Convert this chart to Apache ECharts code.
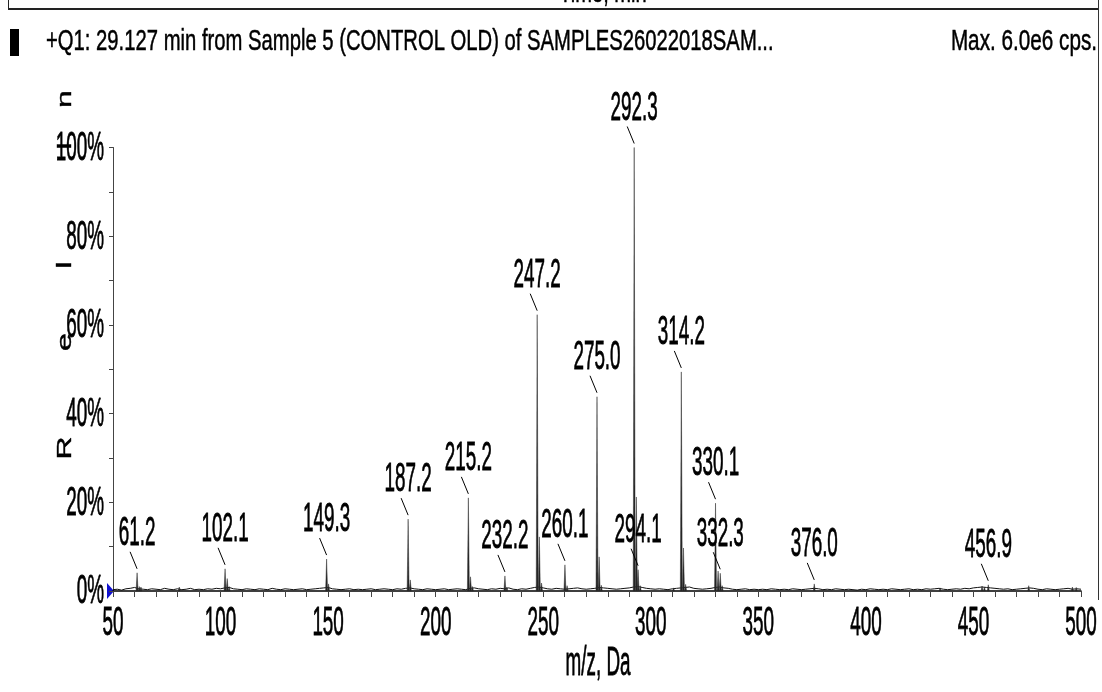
<!DOCTYPE html>
<html>
<head>
<meta charset="utf-8">
<script src="https://cdn.jsdelivr.net/npm/echarts@6/dist/echarts.min.js"></script>
<style>html,body{margin:0;padding:0;background:#fff;}#c{width:1102px;height:692px;}</style>
</head>
<body>
<div id="c"></div>
<script>
// ---------- data ----------
const titleText = '+Q1: 29.127 min from Sample 5 (CONTROL OLD) of SAMPLES26022018SAM...';
const maxText = 'Max. 6.0e6 cps.';
const topCutText = 'Time, min';
const xAxisTitle = 'm/z, Da';
const yAxisLetters = ['R', 'e', 'l', 'I', 'n'];

const xTicks = [50, 100, 150, 200, 250, 300, 350, 400, 450, 500];
const yTicks = [0, 20, 40, 60, 80, 100];
const yTickLabels = ['0%', '20%', '40%', '60%', '80%', '100%'];

// labelled peaks (m/z, relative intensity %)
const labelMz  = [61.2, 102.1, 149.3, 187.2, 215.2, 232.2, 247.2, 260.1, 275.0, 292.3, 294.1, 314.2, 330.1, 332.3, 376.0, 456.9];
const labelInt = [4.1,  5.0,   7.2,   16.2,  21.0,  3.4,   62.3,  5.9,   43.8,  100,   4.8,   49.4,  19.8,  4.0,   1.6,   1.4];
const labelText = ['61.2','102.1','149.3','187.2','215.2','232.2','247.2','260.1','275.0','292.3','294.1','314.2','330.1','332.3','376.0','456.9'];

// other (unlabelled) peaks / isotopes
const minorMz  = [62.2, 63.0, 80.8, 103.1, 104.0, 150.2, 188.2, 216.2, 217.1, 233.1, 248.2, 249.2, 261.1, 276.0, 277.0, 293.3, 295.1, 310.6, 315.2, 316.2, 331.3, 333.2, 434.5, 454.0, 455.1, 475.7, 496.0, 497.8];
const minorInt = [1.0,  0.9,  0.9,  2.8,   1.0,   1.6,   2.5,   3.2,   1.0,   0.9,   12.2,  1.8,   1.2,   7.7,   1.3,   21.2,  1.2,   0.7,   9.7,   1.5,   4.5,   1.2,   0.7,   1.1,   0.9,   1.2,   0.9,   0.8];

// baseline noise, sampled every 2 Da from 50
const noiseStart = 50, noiseStep = 2;
const noiseInt = [
 0.3,0.4,0.2,0.5,0.6,0.8,0.5,0.4,0.3,0.5,
 0.4,0.3,0.6,0.4,0.3,0.5,0.3,0.4,0.6,0.3,
 0.4,0.3,0.5,0.4,0.6,0.5,0.7,0.8,0.5,0.4,
 0.3,0.5,0.4,0.3,0.5,0.4,0.3,0.6,0.4,0.3,
 0.5,0.4,0.3,0.4,0.5,0.3,0.4,0.5,0.6,0.7,
 0.8,0.5,0.4,0.3,0.4,0.5,0.3,0.4,0.3,0.4,
 0.5,0.3,0.4,0.5,0.4,0.3,0.5,0.4,0.6,0.7,
 0.5,0.4,0.3,0.5,0.4,0.3,0.4,0.5,0.3,0.4,
 0.5,0.4,0.3,0.6,0.7,0.5,0.4,0.3,0.5,0.4,
 0.6,0.5,0.7,0.4,0.3,0.5,0.4,0.6,0.8,0.9,
 0.7,0.5,0.4,0.6,0.5,0.4,0.5,0.6,0.7,0.5,
 0.4,0.5,0.6,0.8,0.7,0.6,0.5,0.4,0.5,0.6,
 0.7,0.9,1.0,0.8,0.6,0.5,0.4,0.5,0.4,0.3,
 0.5,0.6,0.7,0.8,0.9,0.6,0.5,0.4,0.5,0.6,
 0.8,0.9,0.7,0.6,0.4,0.3,0.4,0.5,0.3,0.4,
 0.3,0.4,0.3,0.5,0.4,0.3,0.4,0.3,0.5,0.4,
 0.3,0.4,0.5,0.6,0.5,0.3,0.4,0.3,0.5,0.4,
 0.3,0.4,0.3,0.2,0.4,0.3,0.5,0.4,0.3,0.4,
 0.3,0.5,0.4,0.3,0.4,0.5,0.3,0.4,0.3,0.5,
 0.4,0.5,0.6,0.4,0.3,0.4,0.5,0.4,0.6,0.5,
 0.7,0.8,0.9,0.8,0.7,0.6,0.5,0.4,0.5,0.3,
 0.4,0.5,0.6,0.7,0.6,0.4,0.3,0.5,0.4,0.3,
 0.4,0.5,0.6,0.4,0.5,0.4
];

// ---------- chart ----------
const FONT = 'Liberation Sans';
const BIG = 41, SQX = 0.46;
const chart = echarts.init(document.getElementById('c'));

const noiseData = noiseInt.map((v, i) => [noiseStart + i * noiseStep, v]);
const peakData = labelMz.map((m, i) => [m, labelInt[i]]).concat(minorMz.map((m, i) => [m, minorInt[i]]));
const labelData = labelMz.map((m, i) => [m, labelInt[i], i]);

function bigText(text, x, y, align, extra) {
  return Object.assign({
    type: 'text', x: x, y: y, scaleX: SQX, silent: true,
    style: { text: text, fontSize: BIG, fontFamily: FONT, fill: '#000', align: align, verticalAlign: 'middle',
             stroke: '#000', lineWidth: 0.8 }
  }, extra || {});
}

chart.setOption({
  animation: false,
  backgroundColor: '#fff',
  grid: { left: 113, right: 21, top: 147.5, bottom: 101, containLabel: false },
  xAxis: {
    type: 'value', min: 50, max: 500, interval: 50,
    axisLine: { show: true, onZero: false, lineStyle: { color: '#000', width: 1.5 } },
    axisTick: { show: true, length: 6, lineStyle: { color: '#444', width: 1 } },
    minorTick: { show: true, splitNumber: 5, length: 6, lineStyle: { color: '#444', width: 1 } },
    axisLabel: { show: false }, splitLine: { show: false }
  },
  yAxis: {
    type: 'value', min: 0, max: 100, interval: 20,
    axisLine: { show: true, lineStyle: { color: '#444', width: 1 } },
    axisTick: { show: true, length: 4, lineStyle: { color: '#444' } },
    minorTick: { show: true, splitNumber: 2, length: 4, lineStyle: { color: '#444' } },
    axisLabel: { show: false }, splitLine: { show: false }
  },
  series: [
    {
      type: 'line', data: noiseData, symbol: 'none', silent: true,
      lineStyle: { color: '#111', width: 1 }, z: 2
    },
    {
      type: 'custom', data: peakData, silent: true, z: 3,
      renderItem: function (params, api) {
        const top = api.coord([api.value(0), api.value(1)]);
        const base = api.coord([api.value(0), 0]);
        return {
          type: 'polygon',
          shape: { points: [[base[0] - 1.0, base[1]], [top[0], top[1]], [base[0] + 1.0, base[1]]] },
          style: { fill: '#222', stroke: '#333', lineWidth: 0.5 }
        };
      }
    },
    {
      type: 'custom', data: labelData, silent: true, z: 4,
      renderItem: function (params, api) {
        const p = api.coord([api.value(0), api.value(1)]);
        const t = labelText[api.value(2)];
        return {
          type: 'group',
          children: [
            { type: 'line', shape: { x1: p[0] - 7, y1: p[1] - 21, x2: p[0], y2: p[1] - 4 }, style: { stroke: '#000', lineWidth: 1 } },
            bigText(t, p[0], p[1] - 39, 'center')
          ]
        };
      }
    },
    {
      type: 'custom', data: xTicks.map(v => [v, 0]), silent: true, z: 4,
      renderItem: function (params, api) {
        const p = api.coord([api.value(0), 0]);
        return bigText(String(api.value(0)), p[0], p[1] + 33, 'center');
      }
    },
    {
      type: 'custom', data: yTicks.map((v, i) => [50, v, i]), silent: true, z: 4,
      renderItem: function (params, api) {
        const p = api.coord([50, api.value(1)]);
        return bigText(yTickLabels[api.value(2)], p[0] - 9, p[1] + 1, 'right');
      }
    }
  ]
});

const o = chart.convertToPixel({ gridIndex: 0 }, [50, 0]);
const yLetterPos = [448, 342, 265, 146, 99];
const titleStyle = { fontSize: 30, fontFamily: FONT, fill: '#000', verticalAlign: 'middle', stroke: '#000', lineWidth: 0.5 };
const graphics = [
  { type: 'line', shape: { x1: 8, y1: 9, x2: 1098, y2: 9 }, style: { stroke: '#222', lineWidth: 2 } },
  { type: 'line', shape: { x1: 8.5, y1: 0, x2: 8.5, y2: 9 }, style: { stroke: '#222', lineWidth: 1 } },
  { type: 'line', shape: { x1: 1098.5, y1: 0, x2: 1098.5, y2: 600 }, style: { stroke: '#333', lineWidth: 1 } },
  { type: 'rect', shape: { x: 10, y: 29, width: 9, height: 27 }, style: { fill: '#000' } },
  { type: 'text', x: 46, y: 42, scaleX: 0.675, style: Object.assign({ text: titleText, align: 'left' }, titleStyle) },
  { type: 'text', x: 1097, y: 42, scaleX: 0.69, style: Object.assign({ text: maxText, align: 'right' }, titleStyle) },
  { type: 'text', x: 603, y: -6, scaleX: 0.67, style: Object.assign({ text: topCutText, align: 'center' }, titleStyle) },
  bigText(xAxisTitle, 598, 664, 'center'),
  { type: 'polygon', shape: { points: [[o[0] - 6, o[1] - 8], [o[0] + 1, o[1]], [o[0] - 6, o[1] + 8]] }, style: { fill: '#1010d0' } }
];
yAxisLetters.forEach((ch, i) => {
  graphics.push({ type: 'text', x: 65, y: yLetterPos[i], rotation: Math.PI / 2, scaleY: 0.65,
    style: { text: ch, fontSize: 32, fontFamily: FONT, fill: '#000', align: 'center', verticalAlign: 'middle', stroke: '#000', lineWidth: 0.6 } });
});
chart.setOption({ graphic: graphics });
</script>
</body>
</html>
